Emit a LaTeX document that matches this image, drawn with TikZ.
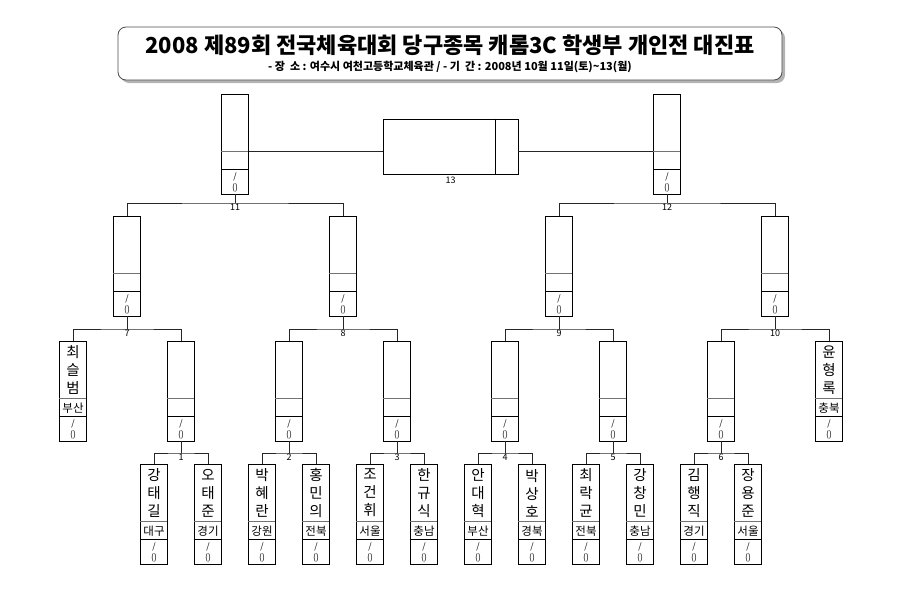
\documentclass[tikz,border=0pt]{standalone}
\usepackage{fontspec}
\setmainfont{Noto Sans CJK KR}
\usetikzlibrary{shadows}
\tikzset{
 pbox/.style={draw=black, line width=0.8pt, minimum width=27pt, minimum height=100pt, inner sep=0pt},
 nmtext/.style={font=\fontsize{14.5}{18}\selectfont, align=center, inner sep=0pt},
 rgtext/.style={font=\fontsize{11.5}{12}\selectfont, inner sep=0pt},
 sctext/.style={font=\fontsize{8.5}{11}\selectfont, align=center, inner sep=0pt},
 lbl/.style={font=\fontsize{9}{9}\selectfont, inner sep=1pt, anchor=north},
 conn/.style={draw=black!85, line width=0.8pt},
 divone/.style={draw=black!55, line width=1.1pt},
 divtwo/.style={draw=black, line width=0.8pt},
}
\newcommand{\WBox}[3]{%
 \node[pbox] (#1) at (#2,#3+50) {};
 \draw[divone] (#1.north west) ++(0,58) -- ++(27,0);
 \draw[divtwo] (#1.north west) ++(0,76) -- ++(27,0);
 \node[sctext] (#1s) at (#2,#3+88.5) {/\\()};
}
\newcommand{\PBox}[5]{%
 \WBox{#1}{#2}{#3}
 \node[nmtext] (#1n) at (#2,#3+29) {#4};
 \node[rgtext] (#1r) at (#2,#3+67) {#5};
}
\begin{document}
\begin{tikzpicture}[x=1pt,y=-1pt]
\useasboundingbox (0,0) rectangle (900,600);
% title
\node[draw=black!70, rounded corners=8pt, line width=0.8pt, fill=white, minimum width=664pt, minimum height=53pt,
  drop shadow={shadow xshift=3pt, shadow yshift=-3pt, fill=black!50, opacity=0.6}] (tb) at (450,53.5) {};
\node[font=\fontsize{22}{22}\selectfont\bfseries, inner sep=0pt, xscale=1.0] (tt) at (450,45) {2008 제89회 전국체육대회 당구종목 캐롬3C 학생부 개인전 대진표};
\node[font=\fontsize{11}{11}\selectfont\bfseries, inner sep=0pt] (st) at (450,67) {- 장\ \ 소 : 여수시 여천고등학교체육관 / - 기\ \ 간 : 2008년 10월 11일(토)\textasciitilde13(월)};
% round 1 players
\PBox{p1}{154}{464}{강\\태\\길}{대구}
\PBox{p2}{208}{464}{오\\태\\준}{경기}
\PBox{p3}{262}{464}{박\\혜\\란}{강원}
\PBox{p4}{316}{464}{홍\\민\\의}{전북}
\PBox{p5}{370}{464}{조\\건\\휘}{서울}
\PBox{p6}{424}{464}{한\\규\\식}{충남}
\PBox{p7}{478}{464}{안\\대\\혁}{부산}
\PBox{p8}{532}{464}{박\\상\\호}{경북}
\PBox{p9}{586}{464}{최\\락\\균}{전북}
\PBox{p10}{640}{464}{강\\창\\민}{충남}
\PBox{p11}{694}{464}{김\\행\\직}{경기}
\PBox{p12}{748}{464}{장\\용\\준}{서울}
% round 2
\PBox{p13}{73}{341}{최\\슬\\범}{부산}
\WBox{w1}{181}{341}
\WBox{w2}{289}{341}
\WBox{w3}{397}{341}
\WBox{w4}{505}{341}
\WBox{w5}{613}{341}
\WBox{w6}{721}{341}
\PBox{p14}{829}{341}{윤\\형\\록}{충북}
% round 3
\WBox{w7}{127}{216}
\WBox{w8}{343}{216}
\WBox{w9}{559}{216}
\WBox{w10}{775}{216}
% round 4
\WBox{w11}{235}{94}
\WBox{w12}{667}{94}
% final
\node[draw=black, line width=0.8pt, minimum width=135pt, minimum height=55pt, inner sep=0pt] (f) at (450.5,146.5) {};
\draw[divtwo] (f.north east) ++(-23,0) -- ++(0,55);
\node[lbl] (l13) at (450.5,176) {13};
% round 1 brackets
\coordinate (j1) at (181,453);
\coordinate (j2) at (289,453);
\coordinate (j3) at (397,453);
\coordinate (j4) at (505,453);
\coordinate (j5) at (613,453);
\coordinate (j6) at (721,453);
\draw[conn] (p1.north) |- (j1) -| (p2.north); \draw[conn] (w1.south) -- (j1); \node[lbl] (l1) at (j1) {1};
\draw[conn] (p3.north) |- (j2) -| (p4.north); \draw[conn] (w2.south) -- (j2); \node[lbl] (l2) at (j2) {2};
\draw[conn] (p5.north) |- (j3) -| (p6.north); \draw[conn] (w3.south) -- (j3); \node[lbl] (l3) at (j3) {3};
\draw[conn] (p7.north) |- (j4) -| (p8.north); \draw[conn] (w4.south) -- (j4); \node[lbl] (l4) at (j4) {4};
\draw[conn] (p9.north) |- (j5) -| (p10.north); \draw[conn] (w5.south) -- (j5); \node[lbl] (l5) at (j5) {5};
\draw[conn] (p11.north) |- (j6) -| (p12.north); \draw[conn] (w6.south) -- (j6); \node[lbl] (l6) at (j6) {6};
% round 2 brackets
\coordinate (j7) at (127,329);
\coordinate (j8) at (343,329);
\coordinate (j9) at (559,329);
\coordinate (j10) at (775,329);
\draw[conn] (p13.north) |- (j7) -| (w1.north); \draw[conn] (w7.south) -- (j7); \node[lbl] (l7) at (j7) {7};
\draw[conn] (w2.north) |- (j8) -| (w3.north); \draw[conn] (w8.south) -- (j8); \node[lbl] (l8) at (j8) {8};
\draw[conn] (w4.north) |- (j9) -| (w5.north); \draw[conn] (w9.south) -- (j9); \node[lbl] (l9) at (j9) {9};
\draw[conn] (w6.north) |- (j10) -| (p14.north); \draw[conn] (w10.south) -- (j10); \node[lbl] (l10) at (j10) {10};
% round 3 brackets
\coordinate (j11) at (235,203);
\coordinate (j12) at (667,203);
\draw[conn] (w7.north) |- (j11) -| (w8.north); \draw[conn] (w11.south) -- (j11); \node[lbl] (l11) at (j11) {11};
\draw[conn] (w9.north) |- (j12) -| (w10.north); \draw[conn] (w12.south) -- (j12); \node[lbl] (l12) at (j12) {12};
% to final
\draw[conn] ([yshift=-7pt]w11.east) -- ([yshift=-4.5pt]f.west);
\draw[conn] ([yshift=-7pt]w12.west) -- ([yshift=-4.5pt]f.east);
\end{tikzpicture}
\end{document}
